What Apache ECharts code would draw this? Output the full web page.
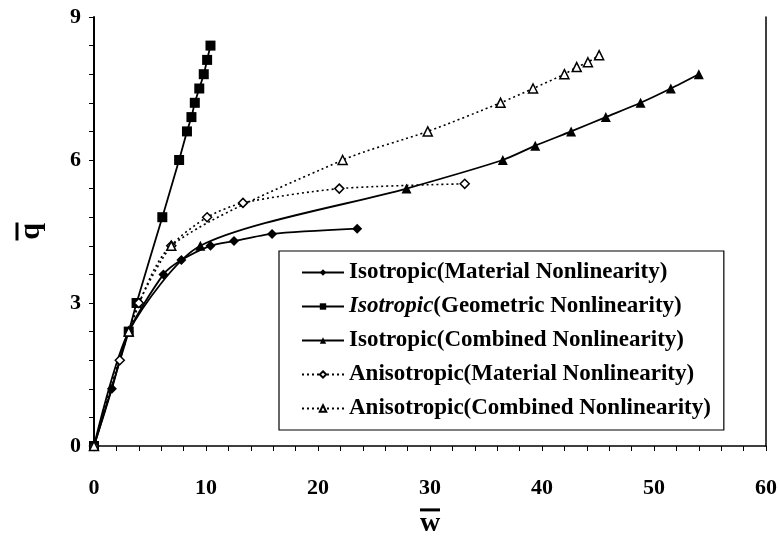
<!DOCTYPE html>
<html><head><meta charset="utf-8">
<script src="https://cdn.jsdelivr.net/npm/echarts@6/dist/echarts.min.js"></script>
<style>html,body{margin:0;padding:0;background:#fff}#c{width:780px;height:547px}</style>
</head><body><div id="c"></div>
<script>
// Data (x = w-bar, y = q-bar)
const isoMatX = [0, 1.6, 3.1, 6.2, 7.8, 10.4, 12.5, 15.9, 23.5];
const isoMatY = [0, 1.2, 2.4, 3.6, 3.9, 4.2, 4.3, 4.45, 4.56];
const isoGeoX = [0, 3.1, 3.8, 6.1, 7.6, 8.3, 8.7, 9.0, 9.4, 9.8, 10.1, 10.4];
const isoGeoY = [0, 2.4, 3.0, 4.8, 6.0, 6.6, 6.9, 7.2, 7.5, 7.8, 8.1, 8.4];
const isoComX = [0, 3.1, 9.5, 27.9, 36.5, 39.4, 42.6, 45.7, 48.8, 51.5, 54.0];
const isoComY = [0, 2.4, 4.2, 5.4, 6.0, 6.3, 6.6, 6.9, 7.2, 7.5, 7.8];
const aniMatX = [0, 2.3, 4.0, 6.9, 10.1, 13.3, 21.9, 33.1];
const aniMatY = [0, 1.8, 3.0, 4.2, 4.8, 5.1, 5.4, 5.5];
const aniComX = [0, 3.1, 6.9, 22.2, 29.8, 36.3, 39.2, 42.0, 43.1, 44.1, 45.1];
const aniComY = [0, 2.4, 4.2, 6.0, 6.6, 7.2, 7.5, 7.8, 7.95, 8.05, 8.2];
const names = [
  'Isotropic(Material Nonlinearity)',
  'Isotropic(Geometric Nonlinearity)',
  'Isotropic(Combined Nonlinearity)',
  'Anisotropic(Material Nonlinearity)',
  'Anisotropic(Combined Nonlinearity)'
];
const xTicks = {min: 0, max: 60, interval: 10};
const yTicks = {min: 0, max: 9, interval: 3};

function pts(xs, ys){ return xs.map((x,i)=>[x, ys[i]]); }
const FONT = '"Liberation Serif", "Times New Roman", serif';
function ser(name, xs, ys, symbol, size, hollow, dotted){
  return {
    name, type: 'line', data: pts(xs, ys), smooth: 0.25,
    symbol, symbolSize: size, showSymbol: true,
    lineStyle: {color: '#000', width: dotted ? 1.6 : 1.8, type: dotted ? [2,3] : 'solid'},
    itemStyle: {color: hollow ? '#fff' : '#000', borderColor: '#000', borderWidth: hollow ? 1.5 : 0},
    emphasis: {disabled: true}, z: 2
  };
}
const chart = echarts.init(document.getElementById('c'), null, {renderer: 'canvas'});
chart.setOption({
  animation: false,
  backgroundColor: '#fff',
  grid: {left: 94, right: 14, top: 17, bottom: 101},
  xAxis: {
    type: 'value', min: xTicks.min, max: xTicks.max, interval: xTicks.interval,
    axisLine: {lineStyle: {color: '#000', width: 1.5}},
    axisTick: {show: true, length: 5, lineStyle: {color: '#000'}},
    minorTick: {show: true, splitNumber: 5, length: 5, lineStyle: {color: '#000'}},
    splitLine: {show: false},
    axisLabel: {color: '#000', fontFamily: FONT, fontWeight: 'bold', fontSize: 22, margin: 31},
    name: '{bar|}\n{t|w}', nameLocation: 'middle', nameGap: 57,
    nameTextStyle: {rich: {
      bar: {width: 20, height: 3, backgroundColor: '#000', lineHeight: 6, align: 'center'},
      t: {fontFamily: FONT, fontWeight: 'bold', fontSize: 28, color: '#000', lineHeight: 22, align: 'center'}
    }}
  },
  yAxis: [{
    type: 'value', min: yTicks.min, max: yTicks.max, interval: yTicks.interval,
    axisLine: {show: true, lineStyle: {color: '#000', width: 2}},
    axisTick: {show: true, length: 5, lineStyle: {color: '#000'}},
    minorTick: {show: true, splitNumber: 5, length: 5, lineStyle: {color: '#000'}},
    splitLine: {show: false},
    axisLabel: {color: '#000', fontFamily: FONT, fontWeight: 'bold', fontSize: 22, margin: 13},
    name: '{bar|}\n{t|q}', nameLocation: 'middle', nameGap: 52, nameRotate: 90,
    nameTextStyle: {rich: {
      bar: {width: 18, height: 3, backgroundColor: '#000', lineHeight: 6, align: 'center'},
      t: {fontFamily: FONT, fontWeight: 'bold', fontSize: 30, color: '#000', lineHeight: 22, align: 'center'}
    }}
  }, {
    type: 'value', position: 'right', min: yTicks.min, max: yTicks.max, interval: yTicks.interval,
    axisLine: {show: true, lineStyle: {color: '#000', width: 1.5}},
    axisTick: {show: false}, axisLabel: {show: false}, splitLine: {show: false}
  }],
  legend: {
    left: 279, top: 251, orient: 'vertical',
    padding: [10, 13, 10, 22], itemGap: 11, itemWidth: 42, itemHeight: 8,
    borderColor: '#000', borderWidth: 1.2, backgroundColor: '#fff',
    data: names,
    formatter: function(n){
      if (n.indexOf('Geometric') >= 0) return '{i|Isotropic}{n|(Geometric Nonlinearity)}';
      return '{n|' + n + '}';
    },
    textStyle: {
      color: '#000', fontFamily: FONT, fontWeight: 'bold', fontSize: 23,
      rich: {
        n: {fontFamily: FONT, fontWeight: 'bold', fontSize: 23, color: '#000'},
        i: {fontFamily: FONT, fontWeight: 'bold', fontStyle: 'italic', fontSize: 23, color: '#000'}
      }
    }
  },
  series: [
    ser(names[0], isoMatX, isoMatY, 'diamond', 10, false, false),
    ser(names[1], isoGeoX, isoGeoY, 'rect', 10, false, false),
    ser(names[2], isoComX, isoComY, 'triangle', 10, false, false),
    ser(names[3], aniMatX, aniMatY, 'diamond', 9, true, true),
    ser(names[4], aniComX, aniComY, 'triangle', 9, true, true)
  ]
});
</script></body></html>
